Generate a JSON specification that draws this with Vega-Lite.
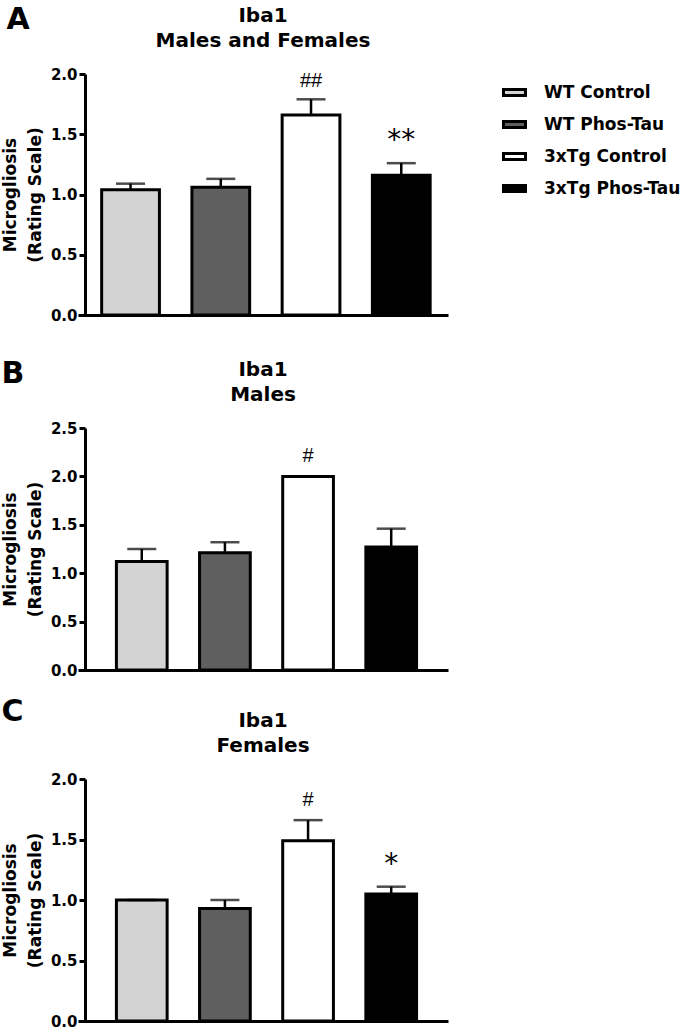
{
  "$schema": "https://vega.github.io/schema/vega-lite/v6.json",
  "padding": {"left": 1, "top": 5, "right": 0, "bottom": 0},
  "background": "white",
  "config": {
    "font": "DejaVu Sans",
    "view": {"stroke": null},
    "axis": {"domainColor": "black", "tickColor": "black", "labelColor": "black", "titleColor": "black", "domainWidth": 3, "tickWidth": 3, "grid": false, "labelFont": "DejaVu Sans", "titleFont": "DejaVu Sans"},
    "title": {"font": "DejaVu Sans", "fontWeight": "bold", "color": "black"},
    "legend": {"labelFont": "DejaVu Sans"}
  },
  "datasets": {
    "iba1": [
      {"panel": "A", "group": "WT Control", "mean": 1.04, "upper": 1.09, "hash": null, "star": null},
      {"panel": "A", "group": "WT Phos-Tau", "mean": 1.06, "upper": 1.13, "hash": null, "star": null},
      {"panel": "A", "group": "3xTg Control", "mean": 1.66, "upper": 1.79, "hash": "##", "star": null},
      {"panel": "A", "group": "3xTg Phos-Tau", "mean": 1.16, "upper": 1.26, "hash": null, "star": "**"},
      {"panel": "B", "group": "WT Control", "mean": 1.12, "upper": 1.25, "hash": null, "star": null},
      {"panel": "B", "group": "WT Phos-Tau", "mean": 1.21, "upper": 1.32, "hash": null, "star": null},
      {"panel": "B", "group": "3xTg Control", "mean": 2.0, "upper": 2.0, "hash": "#", "star": null},
      {"panel": "B", "group": "3xTg Phos-Tau", "mean": 1.27, "upper": 1.46, "hash": null, "star": null},
      {"panel": "C", "group": "WT Control", "mean": 1.0, "upper": 1.0, "hash": null, "star": null},
      {"panel": "C", "group": "WT Phos-Tau", "mean": 0.93, "upper": 1.0, "hash": null, "star": null},
      {"panel": "C", "group": "3xTg Control", "mean": 1.49, "upper": 1.66, "hash": "#", "star": null},
      {"panel": "C", "group": "3xTg Phos-Tau", "mean": 1.05, "upper": 1.11, "hash": null, "star": "*"}
    ]
  },
  "data": {"name": "iba1"},
  "resolve": {"scale": {"fill": "shared"}},
  "spacing": 36,
  "vconcat": [
    {
      "title": {"text": "A", "anchor": "start", "frame": "bounds", "fontSize": 30, "offset": -29, "dx": 5},
      "vconcat": [
        {
          "width": 370, "height": 241,
          "title": {"text": ["Iba1", "Males and Females"], "fontSize": 20, "lineHeight": 25, "anchor": "middle", "frame": "group", "offset": 16},
          "transform": [{"filter": "datum.panel === 'A'"}],
          "encoding": {
            "x": {"field": "group", "type": "nominal", "sort": ["WT Control", "WT Phos-Tau", "3xTg Control", "3xTg Phos-Tau"],
                  "scale": {"paddingInner": 0.36, "paddingOuter": 0.23, "align": 0.57},
                  "axis": {"labels": false, "ticks": false, "title": null}}
          },
          "layer": [
            {
              "mark": {"type": "bar", "stroke": "black", "strokeWidth": 3},
              "encoding": {
                "y": {"field": "mean", "type": "quantitative", "title": ["Microgliosis", "(Rating Scale)"],
                      "scale": {"domain": [0, 2], "nice": false},
                      "axis": {"values": [0, 0.5, 1, 1.5, 2], "format": ".1f", "labelFontSize": 15, "labelFontWeight": "bold", "titleFontSize": 17, "titleFontWeight": "bold", "titleLineHeight": 25, "tickSize": 6, "labelPadding": 2, "titlePadding": 6, "offset": -7}},
                "fill": {"field": "group", "type": "nominal",
                         "scale": {"domain": ["WT Control", "WT Phos-Tau", "3xTg Control", "3xTg Phos-Tau"], "range": ["#d3d3d3", "#5f5f5f", "#ffffff", "#000000"]},
                         "legend": {"title": null, "orient": "none", "legendX": 424, "legendY": 6, "symbolType": "M-1,-0.27H1V0.27H-1Z", "symbolSize": 484, "symbolStrokeWidth": 3, "symbolStrokeColor": "black", "labelFontSize": 17, "labelFontWeight": "bold", "labelColor": "black", "labelOffset": 17, "rowPadding": 10}}
              }
            },
            {
              "mark": {"type": "rule", "strokeWidth": 2.5, "color": "black"},
              "encoding": {"y": {"field": "mean", "type": "quantitative", "title": ["Microgliosis", "(Rating Scale)"]}, "y2": {"field": "upper"}}
            },
            {
              "mark": {"type": "tick", "thickness": 2.5, "size": 29, "color": "black", "orient": "horizontal"},
              "encoding": {"y": {"field": "upper", "type": "quantitative", "title": ["Microgliosis", "(Rating Scale)"]}}
            },
            {
              "transform": [{"filter": "datum.hash != null"}],
              "mark": {"type": "text", "font": "Liberation Sans", "fontSize": 20, "baseline": "alphabetic", "dy": -12, "color": "black"},
              "encoding": {"y": {"field": "upper", "type": "quantitative", "title": ["Microgliosis", "(Rating Scale)"]}, "text": {"field": "hash"}}
            },
            {
              "transform": [{"filter": "datum.star != null"}],
              "mark": {"type": "text", "font": "DejaVu Sans", "fontSize": 28, "baseline": "alphabetic", "dy": -14, "color": "black"},
              "encoding": {"y": {"field": "upper", "type": "quantitative", "title": ["Microgliosis", "(Rating Scale)"]}, "text": {"field": "star"}}
            }
          ]
        }
      ]
    },
    {
      "spacing": 19,
      "vconcat": [
        {
          "title": {"text": "B", "anchor": "start", "frame": "bounds", "fontSize": 30, "offset": -29},
          "vconcat": [
            {
              "width": 370, "height": 242,
              "title": {"text": ["Iba1", "Males"], "fontSize": 20, "lineHeight": 25, "anchor": "middle", "frame": "group", "offset": 16},
              "transform": [{"filter": "datum.panel === 'B'"}],
              "encoding": {
                "x": {"field": "group", "type": "nominal", "sort": ["WT Control", "WT Phos-Tau", "3xTg Control", "3xTg Phos-Tau"],
                      "scale": {"paddingInner": 0.39, "paddingOuter": 0.42, "align": 0.55},
                      "axis": {"labels": false, "ticks": false, "title": null}}
              },
              "layer": [
                {
                  "mark": {"type": "bar", "stroke": "black", "strokeWidth": 3},
                  "encoding": {
                    "y": {"field": "mean", "type": "quantitative", "title": ["Microgliosis", "(Rating Scale)"],
                          "scale": {"domain": [0, 2.5], "nice": false},
                          "axis": {"values": [0, 0.5, 1, 1.5, 2, 2.5], "format": ".1f", "labelFontSize": 15, "labelFontWeight": "bold", "titleFontSize": 17, "titleFontWeight": "bold", "titleLineHeight": 25, "tickSize": 6, "labelPadding": 2, "titlePadding": 6, "offset": -7}},
                    "fill": {"field": "group", "type": "nominal",
                             "scale": {"domain": ["WT Control", "WT Phos-Tau", "3xTg Control", "3xTg Phos-Tau"], "range": ["#d3d3d3", "#5f5f5f", "#ffffff", "#000000"]},
                             "legend": {"title": null, "orient": "none", "legendX": 424, "legendY": 6, "symbolType": "M-1,-0.27H1V0.27H-1Z", "symbolSize": 484, "symbolStrokeWidth": 3, "symbolStrokeColor": "black", "labelFontSize": 17, "labelFontWeight": "bold", "labelColor": "black", "labelOffset": 17, "rowPadding": 10}}
                  }
                },
                {
                  "mark": {"type": "rule", "strokeWidth": 2.5, "color": "black"},
                  "encoding": {"y": {"field": "mean", "type": "quantitative", "title": ["Microgliosis", "(Rating Scale)"]}, "y2": {"field": "upper"}}
                },
                {
                  "mark": {"type": "tick", "thickness": 2.5, "size": 29, "color": "black", "orient": "horizontal"},
                  "encoding": {"y": {"field": "upper", "type": "quantitative", "title": ["Microgliosis", "(Rating Scale)"]}}
                },
                {
                  "transform": [{"filter": "datum.hash != null"}],
                  "mark": {"type": "text", "font": "Liberation Sans", "fontSize": 20, "baseline": "alphabetic", "dy": -14, "color": "black"},
                  "encoding": {"y": {"field": "upper", "type": "quantitative", "title": ["Microgliosis", "(Rating Scale)"]}, "text": {"field": "hash"}}
                }
              ]
            }
          ]
        },
        {
          "title": {"text": "C", "anchor": "start", "frame": "bounds", "fontSize": 30, "offset": -16},
          "vconcat": [
            {
              "width": 370, "height": 242,
              "title": {"text": ["Iba1", "Females"], "fontSize": 20, "lineHeight": 25, "anchor": "middle", "frame": "group", "offset": 16},
              "transform": [{"filter": "datum.panel === 'C'"}],
              "encoding": {
                "x": {"field": "group", "type": "nominal", "sort": ["WT Control", "WT Phos-Tau", "3xTg Control", "3xTg Phos-Tau"],
                      "scale": {"paddingInner": 0.39, "paddingOuter": 0.42, "align": 0.55},
                      "axis": {"labels": false, "ticks": false, "title": null}}
              },
              "layer": [
                {
                  "mark": {"type": "bar", "stroke": "black", "strokeWidth": 3},
                  "encoding": {
                    "y": {"field": "mean", "type": "quantitative", "title": ["Microgliosis", "(Rating Scale)"],
                          "scale": {"domain": [0, 2], "nice": false},
                          "axis": {"values": [0, 0.5, 1, 1.5, 2], "format": ".1f", "labelFontSize": 15, "labelFontWeight": "bold", "titleFontSize": 17, "titleFontWeight": "bold", "titleLineHeight": 25, "tickSize": 6, "labelPadding": 2, "titlePadding": 6, "offset": -7}},
                    "fill": {"field": "group", "type": "nominal",
                             "scale": {"domain": ["WT Control", "WT Phos-Tau", "3xTg Control", "3xTg Phos-Tau"], "range": ["#d3d3d3", "#5f5f5f", "#ffffff", "#000000"]},
                             "legend": {"title": null, "orient": "none", "legendX": 424, "legendY": 6, "symbolType": "M-1,-0.27H1V0.27H-1Z", "symbolSize": 484, "symbolStrokeWidth": 3, "symbolStrokeColor": "black", "labelFontSize": 17, "labelFontWeight": "bold", "labelColor": "black", "labelOffset": 17, "rowPadding": 10}}
                  }
                },
                {
                  "mark": {"type": "rule", "strokeWidth": 2.5, "color": "black"},
                  "encoding": {"y": {"field": "mean", "type": "quantitative", "title": ["Microgliosis", "(Rating Scale)"]}, "y2": {"field": "upper"}}
                },
                {
                  "mark": {"type": "tick", "thickness": 2.5, "size": 29, "color": "black", "orient": "horizontal"},
                  "encoding": {"y": {"field": "upper", "type": "quantitative", "title": ["Microgliosis", "(Rating Scale)"]}}
                },
                {
                  "transform": [{"filter": "datum.hash != null"}],
                  "mark": {"type": "text", "font": "Liberation Sans", "fontSize": 20, "baseline": "alphabetic", "dy": -14, "color": "black"},
                  "encoding": {"y": {"field": "upper", "type": "quantitative", "title": ["Microgliosis", "(Rating Scale)"]}, "text": {"field": "hash"}}
                },
                {
                  "transform": [{"filter": "datum.star != null"}],
                  "mark": {"type": "text", "font": "DejaVu Sans", "fontSize": 28, "baseline": "alphabetic", "dy": -14, "color": "black"},
                  "encoding": {"y": {"field": "upper", "type": "quantitative", "title": ["Microgliosis", "(Rating Scale)"]}, "text": {"field": "star"}}
                }
              ]
            }
          ]
        }
      ]
    }
  ]
}
